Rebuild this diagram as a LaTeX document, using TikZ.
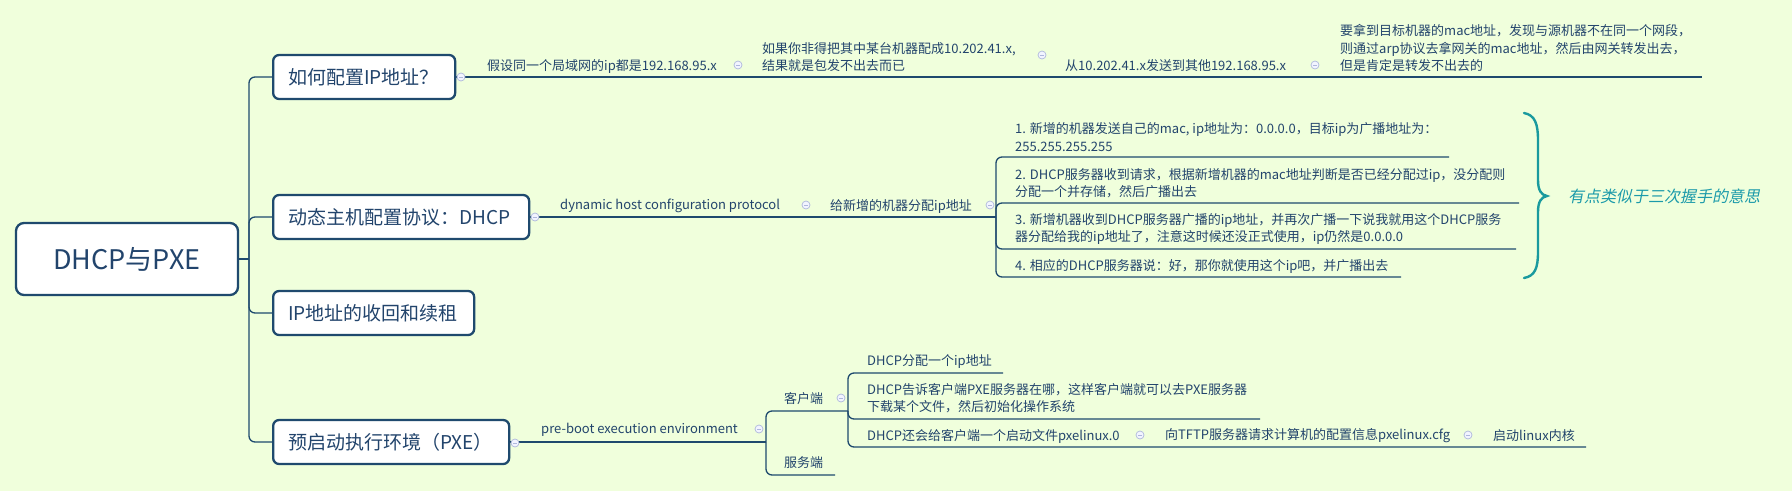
\documentclass[tikz,border=0pt]{standalone}
\usepackage{fontspec}
\setmainfont{Noto Sans CJK SC}
\newfontfamily\cjkit{Noto Sans CJK SC}[FakeSlant=0.2]
\definecolor{bgc}{HTML}{F0FFDC}
\definecolor{lineblue}{HTML}{1F4A6E}
\definecolor{txtblue}{HTML}{22446C}
\definecolor{foldc}{HTML}{AEB8DC}
\definecolor{foldf}{HTML}{F2F4FF}
\definecolor{tealc}{HTML}{1A9A9E}
\definecolor{tealt}{HTML}{1B9AAA}
\begin{document}
\begin{tikzpicture}[x=1pt,y=-1pt,
 box/.style={draw=lineblue, line width=2.3pt, rounded corners=6pt, fill=white, minimum height=44pt, inner xsep=15pt, anchor=west, font=\fontsize{19}{22}\selectfont, text=txtblue, align=left},
 rootbox/.style={draw=lineblue, line width=2.3pt, rounded corners=8pt, fill=white, minimum width=222pt, minimum height=72pt, font=\fontsize{27}{31}\selectfont, text=txtblue},
 txt/.style={inner sep=0pt, anchor=west, font=\fontsize{13}{17.5}\selectfont, text=txtblue, align=left},
 conn/.style={draw=lineblue, line width=1.3pt, rounded corners=6pt},
 fold/.style={circle, draw=foldc, fill=foldf, line width=0.7pt, minimum size=8pt, inner sep=0pt,
   path picture={\draw[foldc, line width=0.8pt] ([xshift=-2pt]path picture bounding box.center) -- ([xshift=2pt]path picture bounding box.center);}},
 bracec/.style={draw=tealc, line width=2.4pt, line cap=round},
]
\useasboundingbox (0,0) rectangle (1792,491);
\fill[bgc] (0,0) rectangle (1792,491);

% root and main topics
\node[rootbox] (r) at (127,259) {DHCP与PXE};
\node[box, text width=152pt] (b1) at (272,77) {如何配置IP地址？};
\node[box, text width=226pt] (b2) at (272,217) {动态主机配置协议：DHCP};
\node[box, text width=171pt] (b3) at (272,313) {IP地址的收回和续租};
\node[box, text width=206pt] (b4) at (272,442) {预启动执行环境（PXE）};

\coordinate (j0) at (249,259);
\draw[conn] (r.east) -- (j0);
\draw[conn] (j0) |- (b1.west);
\draw[conn] (j0) |- (b2.west);
\draw[conn] (j0) |- (b3.west);
\draw[conn] (j0) |- (b4.west);

% branch 1
\node[txt] (t1a) at (487,66) {假设同一个局域网的ip都是192.168.95.x};
\node[txt] (t1b) at (762,57) {如果你非得把其中某台机器配成10.202.41.x,\\结果就是包发不出去而已};
\node[txt] (t1c) at (1065,66) {从10.202.41.x发送到其他192.168.95.x};
\node[txt] (t1d) at (1340,48) {要拿到目标机器的mac地址，发现与源机器不在同一个网段，\\则通过arp协议去拿网关的mac地址，然后由网关转发出去，\\但是肯定是转发不出去的};
\coordinate (e1) at (1702,77);
\draw[conn] (b1.east) -- (e1);

% branch 2
\node[txt] (t2a) at (560,206) {dynamic host configuration protocol};
\node[txt] (t2b) at (830,206) {给新增的机器分配ip地址};
\coordinate (j2) at (996,217);
\draw[conn] (b2.east) -- (j2);
\node[txt] (i1) at (1015,137) {1. 新增的机器发送自己的mac, ip地址为：0.0.0.0，目标ip为广播地址为：\\255.255.255.255};
\node[txt] (i2) at (1015,183) {2. DHCP服务器收到请求，根据新增机器的mac地址判断是否已经分配过ip，没分配则\\分配一个并存储，然后广播出去};
\node[txt] (i3) at (1015,229) {3. 新增机器收到DHCP服务器广播的ip地址，并再次广播一下说我就用这个DHCP服务\\器分配给我的ip地址了，注意这时候还没正式使用，ip仍然是0.0.0.0};
\node[txt] (i4) at (1015,266) {4. 相应的DHCP服务器说：好，那你就使用这个ip吧，并广播出去};
\coordinate (u1) at (1449,157);
\coordinate (u2) at (1519,203);
\coordinate (u3) at (1516,249);
\coordinate (u4) at (1401,277);
\draw[conn] (j2) |- (u1);
\draw[conn] (j2) |- (u2);
\draw[conn] (j2) |- (u3);
\draw[conn] (j2) |- (u4);

% brace and summary
\coordinate (bt) at (1524,113);
\coordinate (bm) at (1547,196);
\coordinate (bb) at (1524,278);
\draw[bracec] (bt) .. controls (1535,115) and (1538,124) .. (1538,140) -- (1538,180)
  .. controls (1538,190) and (1541,195) .. (bm)
  .. controls (1541,197) and (1538,202) .. (1538,212) -- (1538,252)
  .. controls (1538,268) and (1535,276) .. (bb);
\node[inner sep=0pt, anchor=west, font=\cjkit\fontsize{16}{19}\selectfont, text=tealt] (sum) at (1568,196) {有点类似于三次握手的意思};

% branch 4
\node[txt] (t4a) at (541,430) {pre-boot execution environment};
\coordinate (j4) at (766,442);
\draw[conn] (b4.east) -- (j4);
\node[txt] (k1) at (784,399) {客户端};
\node[txt] (k2) at (784,463) {服务端};
\coordinate (kk1) at (848,411);
\coordinate (kk2) at (835,475);
\draw[conn] (j4) |- (kk1);
\draw[conn] (j4) |- (kk2);
\node[txt] (p1) at (867,362) {DHCP分配一个ip地址};
\node[txt] (p2) at (867,398) {DHCP告诉客户端PXE服务器在哪，这样客户端就可以去PXE服务器\\下载某个文件，然后初始化操作系统};
\node[txt] (p3) at (867,436) {DHCP还会给客户端一个启动文件pxelinux.0};
\node[txt] (p4) at (1165,436) {向TFTP服务器请求计算机的配置信息pxelinux.cfg};
\node[txt] (p5) at (1493,436) {启动linux内核};
\coordinate (q1) at (1003,373);
\coordinate (q2) at (1260,419);
\coordinate (q3) at (1586,447);
\draw[conn] (kk1) |- (q1);
\draw[conn] (kk1) |- (q2);
\draw[conn] (kk1) |- (q3);

% fold markers
\node[fold] (c1) at (461,77) {};
\node[fold] (c1a) at (738,65) {};
\node[fold] (c1b) at (1042,55) {};
\node[fold] (c1c) at (1315,65) {};
\node[fold] (c2) at (535,217) {};
\node[fold] (c2a) at (806,205) {};
\node[fold] (c2b) at (990,205) {};
\node[fold] (c4) at (515,443) {};
\node[fold] (c4a) at (759,429) {};
\node[fold] (c4b) at (841,398) {};
\node[fold] (c4c) at (1140,435) {};
\node[fold] (c4d) at (1468,435) {};
\end{tikzpicture}
\end{document}
